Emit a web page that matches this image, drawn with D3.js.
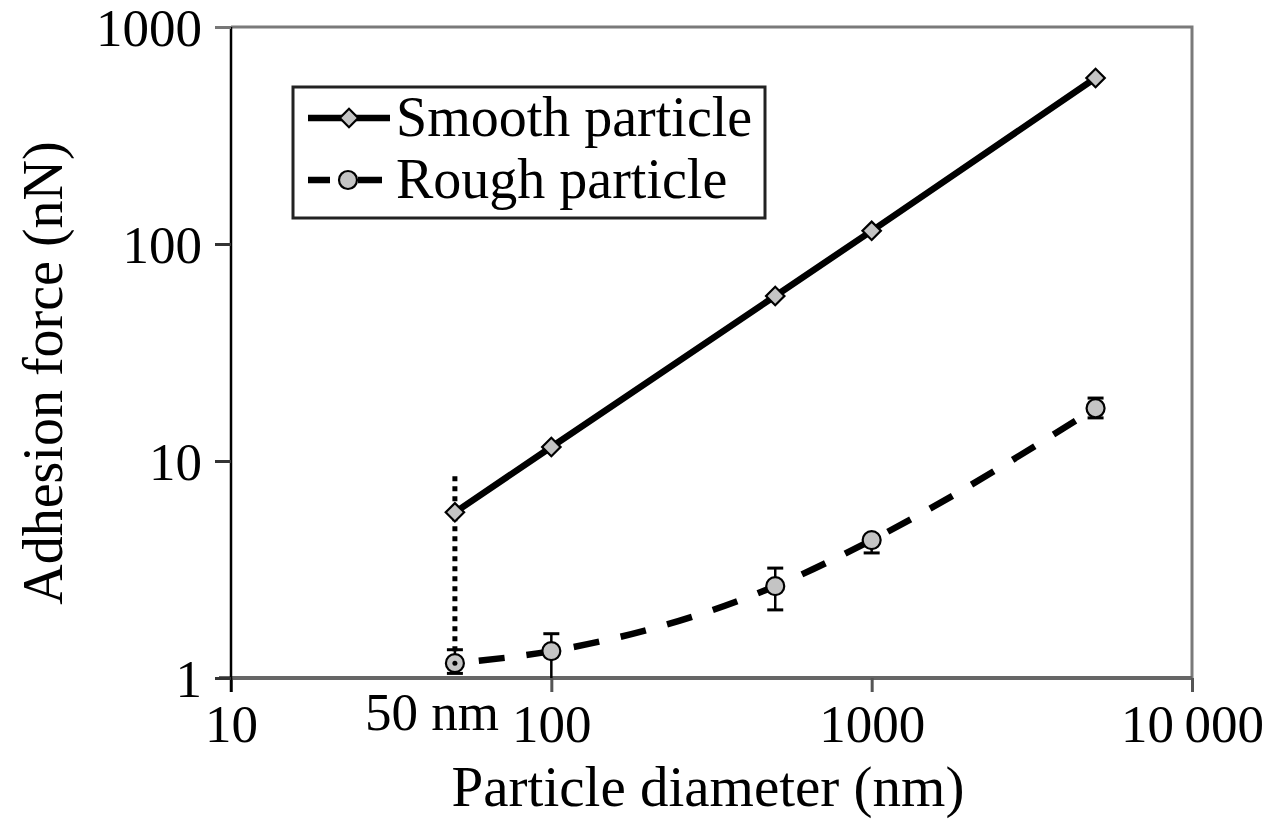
<!DOCTYPE html>
<html>
<head>
<meta charset="utf-8">
<script src="https://cdn.jsdelivr.net/npm/d3@7"></script>
<style>
  html, body { margin: 0; padding: 0; background: #fff; }
  svg { display: block; }
  text { font-family: "Liberation Serif", "Times New Roman", serif; fill: #000; }
</style>
</head>
<body>
<svg id="chart" width="1272" height="820"></svg>
<script>
// ---- data ----
const diameters = [50, 100, 500, 1000, 5000];
const smoothForce = [5.8, 11.6, 57.6, 115, 582];
const roughForce = [1.17, 1.33, 2.65, 4.32, 17.5];
const roughErrLow = [1.05, 1.0, 2.06, 3.77, 15.8];
const roughErrHigh = [1.35, 1.6, 3.21, 4.5, 19.5];
const xTicks = [10, 100, 1000, 10000];
const xTickLabels = ["10", "100", "1000", "10\u2009000"];
const yTicks = [1, 10, 100, 1000];
const yTickLabels = ["1", "10", "100", "1000"];
const seriesNames = ["Smooth particle", "Rough particle"];
const cutoffDiameter = 50;
const cutoffLabel = "50 nm";
const cutoffTop = 8.5;
const xTitle = "Particle diameter (nm)";
const yTitle = "Adhesion force (nN)";

// ---- layout ----
const svg = d3.select("#chart");
const pL = 231, pR = 1192, pT = 27, pB = 678;
const x = d3.scaleLog().domain([10, 10000]).range([pL, pR]);
const y = d3.scaleLog().domain([1, 1000]).range([pB, pT]);
const markerFill = "#c4c4c4";
const tickFont = 53;

// plot border (top & right grey)
svg.append("path")
  .attr("d", `M${pL},${pT}H${pR}V${pB}`)
  .attr("fill", "none").attr("stroke", "#7a7a7a").attr("stroke-width", 3);

// bottom axis
const xAxis = d3.axisBottom(x).tickValues(xTicks)
  .tickFormat((d, i) => xTickLabels[i]).tickSizeInner(14).tickSizeOuter(0).tickPadding(12);
const gx = svg.append("g").attr("transform", `translate(0,${pB})`).call(xAxis);
gx.select(".domain").attr("stroke", "#666").attr("stroke-width", 4)
  .attr("d", `M${pL - 12},0H${pR}`);
gx.selectAll(".tick line").attr("stroke", "#555").attr("stroke-width", 3);
gx.selectAll(".tick text").attr("font-size", tickFont).attr("font-family", "Liberation Serif").attr("fill", "#000");

// left axis
const yAxis = d3.axisLeft(y).tickValues(yTicks)
  .tickFormat((d, i) => yTickLabels[i]).tickSizeInner(16).tickSizeOuter(0).tickPadding(13);
const gy = svg.append("g").attr("transform", `translate(${pL},0)`).call(yAxis);
gy.select(".domain").attr("stroke", "#000").attr("stroke-width", 2.5)
  .attr("d", `M0,${pT}V${pB + 14}`);
gy.selectAll(".tick line").attr("stroke", "#333").attr("stroke-width", 3);
gy.selectAll(".tick text").attr("font-size", tickFont).attr("font-family", "Liberation Serif").attr("fill", "#000").attr("dy", "0.34em");
gy.select(".tick:last-of-type line").attr("stroke", "#777");

// axis titles
svg.append("text").attr("x", 708).attr("y", 806)
  .attr("text-anchor", "middle").attr("font-size", 57).text(xTitle);
svg.append("text").attr("transform", `translate(62,373) rotate(-90)`)
  .attr("text-anchor", "middle").attr("font-size", 56).text(yTitle);

// cutoff label
svg.append("text").attr("x", x(cutoffDiameter) - 23).attr("y", 730)
  .attr("text-anchor", "middle").attr("font-size", tickFont).text(cutoffLabel);

// dotted cutoff line
svg.append("line")
  .attr("x1", x(cutoffDiameter)).attr("x2", x(cutoffDiameter))
  .attr("y1", y(cutoffTop)).attr("y2", y(roughForce[0]))
  .attr("stroke", "#000").attr("stroke-width", 5).attr("stroke-dasharray", "5,5");

// lines
const smoothPts = diameters.map((d, i) => [x(d), y(smoothForce[i])]);
const roughPts = diameters.map((d, i) => [x(d), y(roughForce[i])]);
svg.append("path").attr("d", d3.line()(smoothPts))
  .attr("fill", "none").attr("stroke", "#000").attr("stroke-width", 6.5);
svg.append("path").attr("d", d3.line().curve(d3.curveMonotoneX)(roughPts))
  .attr("fill", "none").attr("stroke", "#000").attr("stroke-width", 6.5)
  .attr("stroke-dasharray", "26,22").attr("stroke-dashoffset", -24);

// error bars
const eb = svg.append("g");
diameters.forEach((d, i) => {
  const cx = x(d);
  eb.append("line").attr("x1", cx).attr("x2", cx)
    .attr("y1", y(roughErrLow[i])).attr("y2", y(roughErrHigh[i]))
    .attr("stroke", "#000").attr("stroke-width", 2.5);
  [roughErrLow[i], roughErrHigh[i]].forEach(v => {
    if (v > 1.0001) {
      eb.append("line").attr("x1", cx - 8).attr("x2", cx + 8)
        .attr("y1", y(v)).attr("y2", y(v))
        .attr("stroke", "#000").attr("stroke-width", 3);
    }
  });
});

// markers
const diamond = d3.symbol().type(d3.symbolSquare).size(170);
svg.append("g").selectAll("path").data(diameters).join("path")
  .attr("d", diamond)
  .attr("transform", (d, i) => `translate(${x(d)},${y(smoothForce[i])}) rotate(45)`)
  .attr("fill", markerFill).attr("stroke", "#000").attr("stroke-width", 2.2);
svg.append("g").selectAll("circle").data(diameters).join("circle")
  .attr("cx", d => x(d)).attr("cy", (d, i) => y(roughForce[i])).attr("r", 9)
  .attr("fill", markerFill).attr("stroke", "#000").attr("stroke-width", 2.2);
// dot inside first rough marker (end of dotted line)
svg.append("circle").attr("cx", x(cutoffDiameter)).attr("cy", y(roughForce[0])).attr("r", 2.5).attr("fill", "#000");

// legend
const lg = svg.append("g");
lg.append("rect").attr("x", 293).attr("y", 87).attr("width", 472).attr("height", 131)
  .attr("fill", "#fff").attr("stroke", "#222").attr("stroke-width", 3);
const rows = [118, 180];
lg.append("line").attr("x1", 308).attr("x2", 390).attr("y1", rows[0]).attr("y2", rows[0])
  .attr("stroke", "#000").attr("stroke-width", 6.5);
lg.append("path").attr("d", diamond).attr("transform", `translate(349,${rows[0]}) rotate(45)`)
  .attr("fill", markerFill).attr("stroke", "#000").attr("stroke-width", 2.2);
lg.append("line").attr("x1", 308).attr("x2", 330).attr("y1", rows[1]).attr("y2", rows[1])
  .attr("stroke", "#000").attr("stroke-width", 6.5);
lg.append("line").attr("x1", 358).attr("x2", 382).attr("y1", rows[1]).attr("y2", rows[1])
  .attr("stroke", "#000").attr("stroke-width", 6.5);
lg.append("circle").attr("cx", 348).attr("cy", rows[1]).attr("r", 9)
  .attr("fill", markerFill).attr("stroke", "#000").attr("stroke-width", 2.2);
seriesNames.forEach((n, i) => {
  lg.append("text").attr("x", 396).attr("y", rows[i] + 18).attr("font-size", 56).text(n);
});
</script>
</body>
</html>
